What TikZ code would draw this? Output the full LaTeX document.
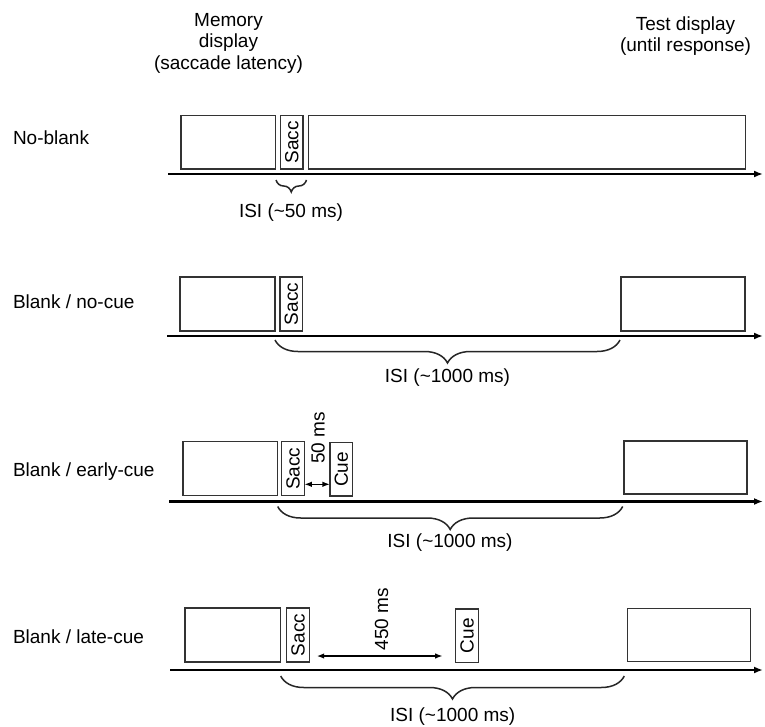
\documentclass[tikz,border=0pt]{standalone}
\usepackage{fontspec}
\setmainfont{Liberation Sans}
\usetikzlibrary{arrows.meta,decorations.pathreplacing}
\begin{document}
\begin{tikzpicture}[x=1pt,y=-1pt,
  every node/.style={font=\fontsize{19}{21.5}\selectfont, inner sep=0pt, outer sep=0pt},
  box/.style={draw=black!80, line width=1.5pt, fill=white, minimum height=53.5},
  timeline/.style={line width=2.5pt, -{Latex[length=9pt,width=7pt]}},
  isibrace/.style={draw=black!85, line width=1.5pt, decorate, decoration={brace, mirror, amplitude=#1}},
  dur/.style={line width=1.5pt, {Latex[length=7.5pt,width=5.5pt]}-{Latex[length=7.5pt,width=5.5pt]}},
  rowlabel/.style={anchor=base west},
  lbl/.style={align=center}
]
\useasboundingbox (0,0) rectangle (765,727);

% headers
\node[lbl] (hmem) at (228.5,43) {Memory\\display\\(saccade latency)};
\node[lbl] (htest) at (685.5,36) {Test display\\(until response)};

% ---------- Row 1: No-blank
\node[rowlabel] (r1) at (13,145) {No-blank};
\node[box, minimum width=94.5] (m1) at (228.3,142.3) {};
\node[box, minimum width=22.5] (s1) at (291.8,142.3) {\rotatebox{90}{Sacc}};
\node[box, minimum width=437] (d1) at (527.1,142.3) {};
\coordinate (t1a) at (168,174);
\coordinate (t1b) at (763,174);
\draw[timeline] (t1a) -- (t1b);
\coordinate (b1a) at (276,180);
\coordinate (b1b) at (306.5,180);
\draw[isibrace=12pt] (b1a) -- (b1b);
\node (i1) at (291,213) {ISI (\char`~50 ms)};

% ---------- Row 2: Blank / no-cue
\node[rowlabel] (r2) at (13,308.3) {Blank / no-cue};
\node[box, minimum width=95, minimum height=54] (m2) at (227.5,304) {};
\node[box, minimum width=22.7, minimum height=54] (s2) at (291.3,304) {\rotatebox{90}{Sacc}};
\node[box, minimum width=124, minimum height=54] (d2) at (683,304) {};
\coordinate (t2a) at (167,336);
\coordinate (t2b) at (763,336);
\draw[timeline] (t2a) -- (t2b);
\coordinate (b2a) at (275,340);
\coordinate (b2b) at (620,340);
\draw[isibrace=23pt] (b2a) -- (b2b);
\node (i2) at (447.5,378) {ISI (\char`~1000 ms)};

% ---------- Row 3: Blank / early-cue
\node[rowlabel] (r3) at (13,476.7) {Blank / early-cue};
\node[box, minimum width=94.7, minimum height=54] (m3) at (230.3,468.7) {};
\node[box, minimum width=22.6, minimum height=54] (s3) at (293,468.7) {\rotatebox{90}{Sacc}};
\node[box, minimum width=22.7, minimum height=53.3] (c3) at (341.3,469.3) {\rotatebox{90}{Cue}};
\node[box, minimum width=123, minimum height=53] (d3) at (685.5,467.5) {};
\draw[dur] (s3.east |- 0,484.3) -- (c3.west |- 0,484.3);
\node[rotate=90] (n3) at (318,438) {50 ms};
\coordinate (t3a) at (169,501.5);
\coordinate (t3b) at (763,501.5);
\draw[timeline] (t3a) -- (t3b);
\coordinate (b3a) at (277.7,506.5);
\coordinate (b3b) at (622.7,506.5);
\draw[isibrace=23pt] (b3a) -- (b3b);
\node (i3) at (450,543) {ISI (\char`~1000 ms)};

% ---------- Row 4: Blank / late-cue
\node[rowlabel] (r4) at (13,643.3) {Blank / late-cue};
\node[box, minimum width=95.7, minimum height=54] (m4) at (232.8,635) {};
\node[box, minimum width=22.6, minimum height=54] (s4) at (298,635) {\rotatebox{90}{Sacc}};
\node[box, minimum width=22.6, minimum height=53.7] (c4) at (467,635.8) {\rotatebox{90}{Cue}};
\node[box, minimum width=123.4, minimum height=53.4] (d4) at (689,635) {};
\coordinate (a4a) at (316.7,656);
\coordinate (a4b) at (442.7,656);
\draw[dur] (a4a) -- (a4b);
\node[rotate=90] (n4) at (381.7,619) {450 ms};
\coordinate (t4a) at (170,670);
\coordinate (t4b) at (763,670);
\draw[timeline] (t4a) -- (t4b);
\coordinate (b4a) at (280.7,676);
\coordinate (b4b) at (624.3,676);
\draw[isibrace=23pt] (b4a) -- (b4b);
\node (i4) at (452.7,717) {ISI (\char`~1000 ms)};
\end{tikzpicture}
\end{document}
